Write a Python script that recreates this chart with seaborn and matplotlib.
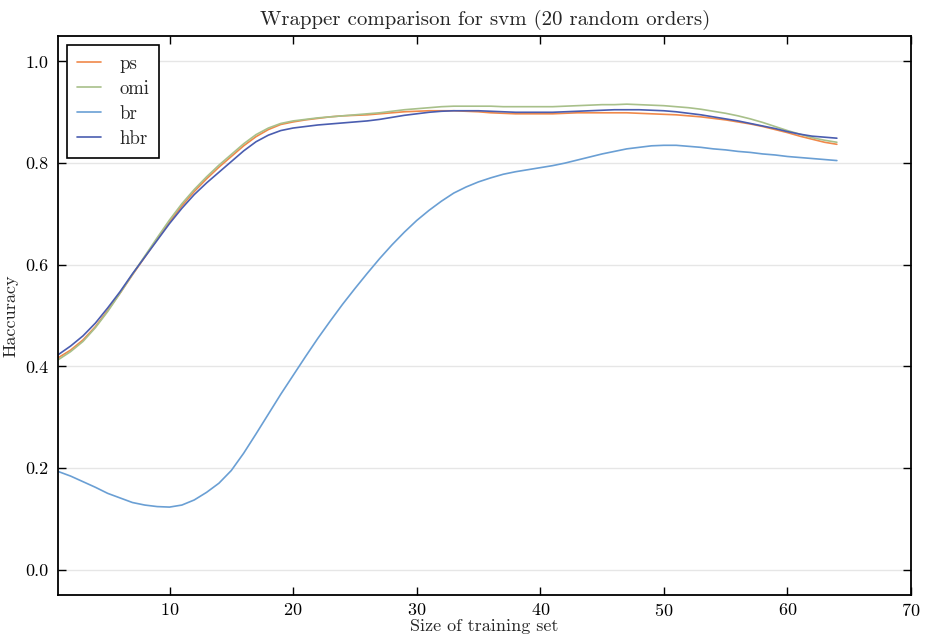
import matplotlib
matplotlib.use("Agg")
import matplotlib.pyplot as plt
import seaborn as sns
import pandas as pd

sizes = list(range(1, 65))

ps = [0.417, 0.432, 0.452, 0.478, 0.510, 0.544, 0.580, 0.615, 0.650, 0.684,
      0.716, 0.744, 0.769, 0.792, 0.813, 0.834, 0.852, 0.866, 0.876, 0.881,
      0.885, 0.888, 0.891, 0.893, 0.894, 0.895, 0.897, 0.899, 0.901, 0.902,
      0.903, 0.903, 0.903, 0.902, 0.901, 0.899, 0.898, 0.897, 0.897, 0.897,
      0.897, 0.898, 0.899, 0.899, 0.899, 0.899, 0.899, 0.898, 0.897, 0.896,
      0.895, 0.893, 0.891, 0.888, 0.885, 0.881, 0.877, 0.872, 0.866, 0.860,
      0.853, 0.847, 0.841, 0.837]
omi = [0.413, 0.429, 0.449, 0.476, 0.508, 0.544, 0.581, 0.617, 0.653, 0.688,
       0.720, 0.748, 0.773, 0.796, 0.817, 0.838, 0.856, 0.869, 0.878, 0.883,
       0.886, 0.889, 0.891, 0.893, 0.895, 0.897, 0.899, 0.902, 0.905, 0.907,
       0.909, 0.911, 0.912, 0.912, 0.912, 0.912, 0.911, 0.911, 0.911, 0.911,
       0.911, 0.912, 0.913, 0.914, 0.915, 0.915, 0.916, 0.915, 0.914, 0.913,
       0.911, 0.909, 0.906, 0.902, 0.898, 0.893, 0.887, 0.880, 0.872, 0.864,
       0.857, 0.850, 0.845, 0.841]
br = [0.193, 0.184, 0.173, 0.162, 0.150, 0.141, 0.132, 0.127, 0.124, 0.123,
      0.127, 0.137, 0.152, 0.170, 0.195, 0.229, 0.267, 0.306, 0.345, 0.382,
      0.419, 0.455, 0.489, 0.522, 0.553, 0.583, 0.612, 0.639, 0.664, 0.687,
      0.707, 0.725, 0.741, 0.753, 0.763, 0.771, 0.778, 0.783, 0.787, 0.791,
      0.795, 0.800, 0.806, 0.812, 0.818, 0.823, 0.828, 0.831, 0.834, 0.835,
      0.835, 0.833, 0.831, 0.828, 0.826, 0.823, 0.821, 0.818, 0.816, 0.813,
      0.811, 0.809, 0.807, 0.805]
hbr = [0.423, 0.440, 0.460, 0.485, 0.515, 0.547, 0.582, 0.615, 0.648, 0.681,
       0.711, 0.738, 0.761, 0.782, 0.803, 0.824, 0.842, 0.855, 0.864, 0.869,
       0.872, 0.875, 0.877, 0.879, 0.881, 0.883, 0.886, 0.890, 0.894, 0.897,
       0.900, 0.902, 0.903, 0.903, 0.903, 0.902, 0.901, 0.900, 0.900, 0.900,
       0.900, 0.901, 0.902, 0.903, 0.904, 0.905, 0.905, 0.905, 0.904, 0.903,
       0.901, 0.898, 0.895, 0.891, 0.887, 0.883, 0.878, 0.873, 0.868, 0.862,
       0.857, 0.853, 0.851, 0.849]

series_names = ["ps", "omi", "br", "hbr"]
series_vals = [ps, omi, br, hbr]
colors = ["#f0894a", "#a8c08a", "#6a9fd4", "#4a5db0"]

rows = []
for name, vals in zip(series_names, series_vals):
    for s, v in zip(sizes, vals):
        rows.append({"size": s, "Haccuracy": v, "method": name})
df = pd.DataFrame(rows)

sns.set_style("white")
plt.rcParams["font.family"] = ["cmr10", "DejaVu Serif"]
plt.rcParams["axes.formatter.use_mathtext"] = True
plt.rcParams["mathtext.fontset"] = "cm"

fig = plt.figure(figsize=(9.28, 6.44), dpi=100)
ax = fig.add_axes([0.0628, 0.0761, 0.9189, 0.8679])

sns.lineplot(data=df, x="size", y="Haccuracy", hue="method",
             hue_order=series_names, palette=colors, linewidth=1.2, ax=ax)

ax.set_xlim(1, 70)
ax.set_ylim(-0.05, 1.05)
ax.set_xticks([10, 20, 30, 40, 50, 60, 70])
ax.set_yticks([0.0, 0.2, 0.4, 0.6, 0.8, 1.0])
ax.set_yticklabels(["0.0", "0.2", "0.4", "0.6", "0.8", "1.0"])
ax.yaxis.grid(True, color="#e6e6e6", linewidth=1)
ax.xaxis.grid(False)
ax.set_axisbelow(True)
for sp in ax.spines.values():
    sp.set_visible(True)
    sp.set_color("black")
    sp.set_linewidth(1.3)
ax.tick_params(axis="both", direction="in", length=6, width=1, top=True, right=True,
               bottom=True, left=True, labelsize=13, colors="black")
ax.tick_params(axis="x", pad=5)
ax.tick_params(axis="y", pad=7)
ax.set_xlabel("Size of training set", fontsize=13, labelpad=0)
ax.set_ylabel("Haccuracy", fontsize=13, labelpad=5)
ax.set_title("Wrapper comparison for svm (20 random orders)", fontsize=15, pad=8)

leg = ax.legend(loc="upper left", fontsize=13.5, frameon=True, fancybox=False,
                handlelength=1.3, borderpad=0.55, labelspacing=0.38, handletextpad=0.95,
                borderaxespad=0.45)
leg.get_frame().set_edgecolor("black")
leg.get_frame().set_linewidth(1.2)
leg.get_frame().set_alpha(1)

fig.savefig("out.png", dpi=100)
